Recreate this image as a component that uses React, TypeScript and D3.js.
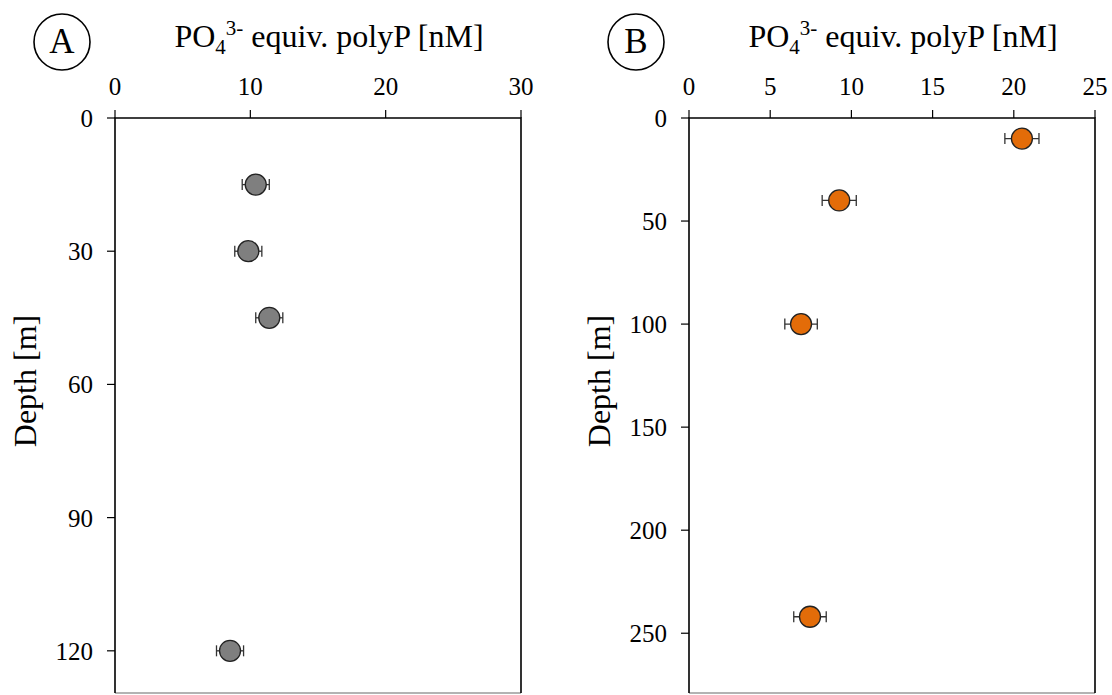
import React, { useEffect, useRef } from 'react';
import * as d3 from 'd3';

// Panel A - shallow station
const depthsA = [15, 30, 45, 120];
const polyPA = [10.4, 9.85, 11.4, 8.5];
const errA = [1.0, 1.0, 1.0, 1.0];
const xTicksA = [0, 10, 20, 30];
const yTicksA = [0, 30, 60, 90, 120];

// Panel B - deep station
const depthsB = [10, 40, 100, 242];
const polyPB = [20.5, 9.25, 6.9, 7.45];
const errB = [1.05, 1.05, 1.0, 1.0];
const xTicksB = [0, 5, 10, 15, 20, 25];
const yTicksB = [0, 50, 100, 150, 200, 250];

const FONT = '"Liberation Serif", "Times New Roman", serif';

type Panel = {
    letter: string;
    left: number;
    xMax: number;
    yMax: number;
    depths: number[];
    vals: number[];
    errs: number[];
    xTicks: number[];
    yTicks: number[];
    fill: string;
};

const drawPanel = (svg: any, p: Panel) => {
    const top = 118;
    const width = 406;
    const height = 575;

    const x = d3.scaleLinear().domain([0, p.xMax]).range([p.left, p.left + width]);
    const y = d3.scaleLinear().domain([0, p.yMax]).range([top, top + height]);

    const g = svg.append('g');

    // Letter in circle
    g.append('circle')
        .attr('cx', p.left - 53)
        .attr('cy', 42)
        .attr('r', 28)
        .attr('fill', 'none')
        .attr('stroke', '#000')
        .attr('stroke-width', 1.6);
    g.append('text')
        .attr('x', p.left - 53)
        .attr('y', 53)
        .attr('text-anchor', 'middle')
        .style('font-family', FONT)
        .style('font-size', '35px')
        .text(p.letter);

    // Title with sub/superscript
    const title = g.append('text')
        .attr('x', p.left + width / 2 + 11)
        .attr('y', 47)
        .attr('text-anchor', 'middle')
        .style('font-family', FONT)
        .style('font-size', '32px');
    title.append('tspan').text('PO');
    title.append('tspan').attr('dy', 7).style('font-size', '21px').text('4');
    title.append('tspan').attr('dy', -19).style('font-size', '21px').text('3-');
    title.append('tspan').attr('dy', 12).text(' equiv. polyP [nM]');

    // Box
    g.append('line')
        .attr('x1', p.left).attr('x2', p.left + width)
        .attr('y1', top + height).attr('y2', top + height)
        .attr('stroke', '#9a9a9a').attr('stroke-width', 1.5);
    g.append('path')
        .attr('d', `M${p.left},${top + height}V${top}H${p.left + width}V${top + height}`)
        .attr('fill', 'none')
        .attr('stroke', '#000')
        .attr('stroke-width', 1.6);

    // X ticks (top)
    p.xTicks.forEach(t => {
        g.append('line')
            .attr('x1', x(t)).attr('x2', x(t))
            .attr('y1', top).attr('y2', top - 8)
            .attr('stroke', '#000').attr('stroke-width', 1.2);
        g.append('text')
            .attr('x', x(t))
            .attr('y', 95)
            .attr('text-anchor', 'middle')
            .style('font-family', FONT)
            .style('font-size', '25px')
            .text(t);
    });

    // Y ticks (left)
    p.yTicks.forEach(t => {
        g.append('line')
            .attr('x1', p.left).attr('x2', p.left - 8)
            .attr('y1', y(t)).attr('y2', y(t))
            .attr('stroke', '#000').attr('stroke-width', 1.2);
        g.append('text')
            .attr('x', p.left - 22)
            .attr('y', y(t) + 9)
            .attr('text-anchor', 'end')
            .style('font-family', FONT)
            .style('font-size', '25px')
            .text(t);
    });

    // Y axis label
    g.append('text')
        .attr('transform', `translate(${p.left - 79}, 381) rotate(-90)`)
        .attr('text-anchor', 'middle')
        .style('font-family', FONT)
        .style('font-size', '32px')
        .text('Depth [m]');

    // Error bars + points
    p.depths.forEach((d, i) => {
        const cy = y(d);
        const x0 = x(p.vals[i] - p.errs[i]);
        const x1 = x(p.vals[i] + p.errs[i]);
        g.append('line')
            .attr('x1', x0).attr('x2', x1)
            .attr('y1', cy).attr('y2', cy)
            .attr('stroke', '#333').attr('stroke-width', 1.3);
        [x0, x1].forEach(cx => {
            g.append('line')
                .attr('x1', cx).attr('x2', cx)
                .attr('y1', cy - 5.5).attr('y2', cy + 5.5)
                .attr('stroke', '#333').attr('stroke-width', 1.3);
        });
        g.append('circle')
            .attr('cx', x(p.vals[i]))
            .attr('cy', cy)
            .attr('r', 10.5)
            .attr('fill', p.fill)
            .attr('stroke', '#222')
            .attr('stroke-width', 1.3);
    });
};

const App = () => {
    const ref = useRef<SVGSVGElement>(null);

    useEffect(() => {
        const svg = d3.select(ref.current);
        svg.selectAll('*').remove();

        drawPanel(svg, {
            letter: 'A', left: 115, xMax: 30, yMax: 129.5,
            depths: depthsA, vals: polyPA, errs: errA,
            xTicks: xTicksA, yTicks: yTicksA, fill: '#7f7f7f',
        });
        drawPanel(svg, {
            letter: 'B', left: 689, xMax: 25, yMax: 279,
            depths: depthsB, vals: polyPB, errs: errB,
            xTicks: xTicksB, yTicks: yTicksB, fill: '#e36c09',
        });
    }, []);

    return (
        <svg
            ref={ref}
            width={1112}
            height={695}
            style={{ position: 'absolute', left: 0, top: 0, background: '#fff' }}
        />
    );
};

export default App;
